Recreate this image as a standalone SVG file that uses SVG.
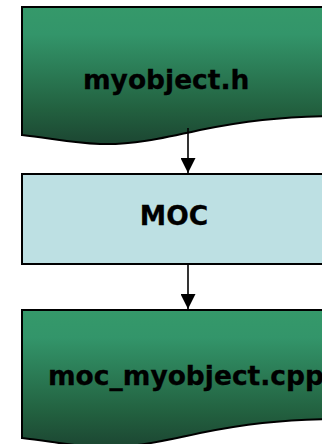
<svg xmlns="http://www.w3.org/2000/svg" width="322" height="444" viewBox="0 0 322 444">
<style>
.doc{stroke:#000;stroke-width:2;fill:url(#g)}
.box{stroke:#000;stroke-width:2;fill:#bde0e3}
.lbl{font-family:"DejaVu Sans",Verdana,sans-serif;font-weight:bold;font-size:26.5px;fill:#000;stroke:#000;stroke-width:0.3}
.edge{stroke:#000;stroke-width:1.6;fill:none;marker-end:url(#ah)}
</style>
<defs>
<linearGradient id="g" x1="0" y1="0" x2="0" y2="1">
<stop offset="0" stop-color="#35996a"/>
<stop offset="0.2" stop-color="#33956a"/>
<stop offset="0.75" stop-color="#22603f"/>
<stop offset="1" stop-color="#1c4632"/>
</linearGradient>
<marker id="ah" markerWidth="15" markerHeight="15" refX="15" refY="7.5" orient="auto" markerUnits="userSpaceOnUse">
<path d="M0,0 L15,7.5 L0,15 Z" fill="#000"/>
</marker>
</defs>
<g id="n1">
<path class="doc" d="M22,7 H340 V116 C280,116 240,122 200,130 C160,139 130,145 100,144 C70,143 50,138 22,135 Z"/>
<text class="lbl" x="83" y="89">myobject.h</text>
</g>
<g id="n2">
<rect class="box" x="22" y="174" width="320" height="90"/>
<text class="lbl" x="174" y="225" text-anchor="middle">MOC</text>
</g>
<g id="n3">
<path class="doc" d="M22,310 H340 V419 C280,419 240,425 200,433 C160,442 130,448 100,447 C70,446 50,441 22,438 Z"/>
<text class="lbl" x="48" y="385">moc_myobject.cpp</text>
</g>
<g id="edges">
<line class="edge" x1="188" y1="128" x2="188" y2="173"/>
<line class="edge" x1="188" y1="264" x2="188" y2="309"/>
</g>
</svg>
